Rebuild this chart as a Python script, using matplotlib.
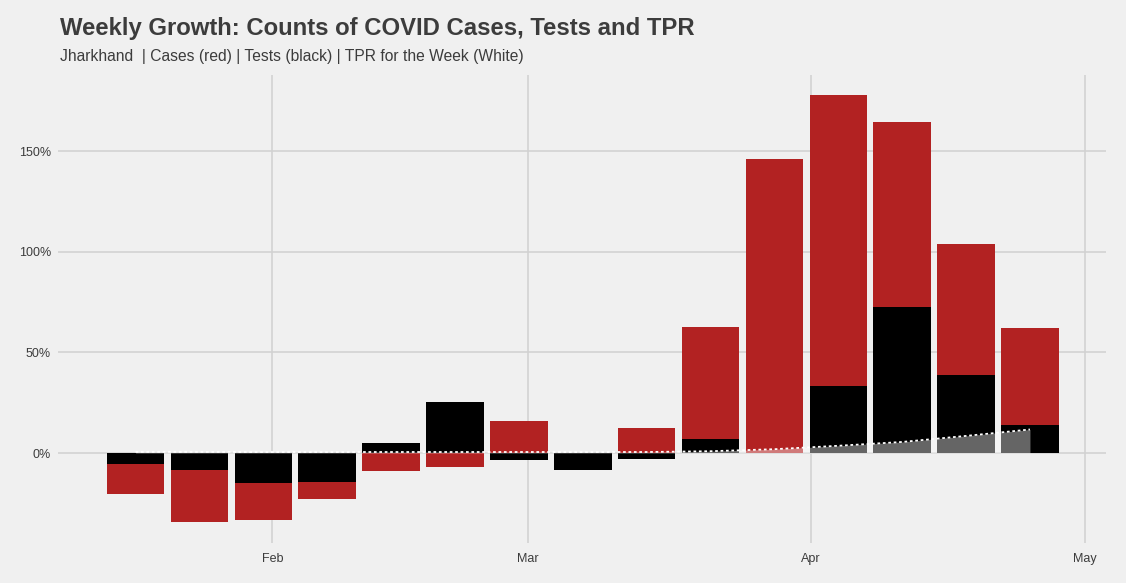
import matplotlib
matplotlib.use("Agg")
import matplotlib.pyplot as plt
import matplotlib.dates as mdates
import numpy as np
import pandas as pd
from matplotlib.ticker import FuncFormatter

# ---- data (weekly growth, %) ----
week_start = ["2021-01-17", "2021-01-24", "2021-01-31", "2021-02-07", "2021-02-14",
              "2021-02-21", "2021-02-28", "2021-03-07", "2021-03-14", "2021-03-21",
              "2021-03-28", "2021-04-04", "2021-04-11", "2021-04-18", "2021-04-25"]
cases_growth = [-20.4, -34.3, -33.3, -22.9, -8.9, -7.0, 15.9, -4.0, 12.4, 62.6,
                146.0, 177.8, 164.4, 103.8, 62.1]
tests_growth = [-5.5, -8.4, -14.9, -14.4, 5.0, 25.3, -3.5, -8.2, -3.0, 7.0,
                0.0, 33.3, 72.5, 38.7, 13.9]
tpr_week = [0.6, 0.6, 0.5, 0.5, 0.5, 0.5, 0.5, 0.5, 0.5, 0.9,
            1.9, 3.6, 5.5, 8.5, 11.7]
y_ticks = [0, 50, 100, 150]
x_ticks = ["2021-02-01", "2021-03-01", "2021-04-01", "2021-05-01"]

plt.rcParams['font.family'] = ['Liberation Sans', 'DejaVu Sans']

bg = "#F0F0F0"
fig = plt.figure(figsize=(11.26, 5.83), dpi=100, facecolor=bg)
W, H = 1126, 583
ax = fig.add_axes([58 / W, (H - 543) / H, (1106 - 58) / W, (543 - 75) / H])
ax.set_facecolor(bg)

dates = pd.to_datetime(week_start)
xd = mdates.date2num(dates)

ax.bar(xd, cases_growth, width=6.3, color="#B22222", zorder=2)
ax.bar(xd, tests_growth, width=6.3, color="black", zorder=2.5)
ax.fill_between(xd, 0, tpr_week, color="white", alpha=0.4, linewidth=0, zorder=3)
ax.plot(xd, tpr_week, color="white", linestyle=(0, (1.5, 1.5)), linewidth=1.3, zorder=4)

ax.set_xlim(mdates.date2num(pd.Timestamp("2021-01-08 12:00")),
            mdates.date2num(pd.Timestamp("2021-05-03 08:00")))
ax.set_ylim(-44.7, 187.8)

ax.set_yticks(y_ticks)
ax.yaxis.set_major_formatter(FuncFormatter(lambda v, p: f"{v:.0f}%"))
ax.set_xticks(mdates.date2num(pd.to_datetime(x_ticks)))
ax.set_xticklabels([pd.Timestamp(t).strftime("%b") for t in x_ticks])

ax.grid(True, color="#D2D2D2", linewidth=1.2, zorder=0)
ax.set_axisbelow(True)
for s in ax.spines.values():
    s.set_visible(False)
ax.tick_params(axis="both", length=0, labelsize=9, colors="#3C3C3C")
ax.tick_params(axis="y", pad=5)
ax.tick_params(axis="x", pad=7)

fig.text(60 / W, 1 - 29 / H, "Weekly Growth: Counts of COVID Cases, Tests and TPR",
         fontsize=17.2, fontweight="bold", color="#3C3C3C", va="center", ha="left")
fig.text(60 / W, 1 - 57 / H, "Jharkhand  | Cases (red) | Tests (black) | TPR for the Week (White)",
         fontsize=11.25, color="#3C3C3C", va="center", ha="left")

fig.savefig("out.png", dpi=100, facecolor=bg)
